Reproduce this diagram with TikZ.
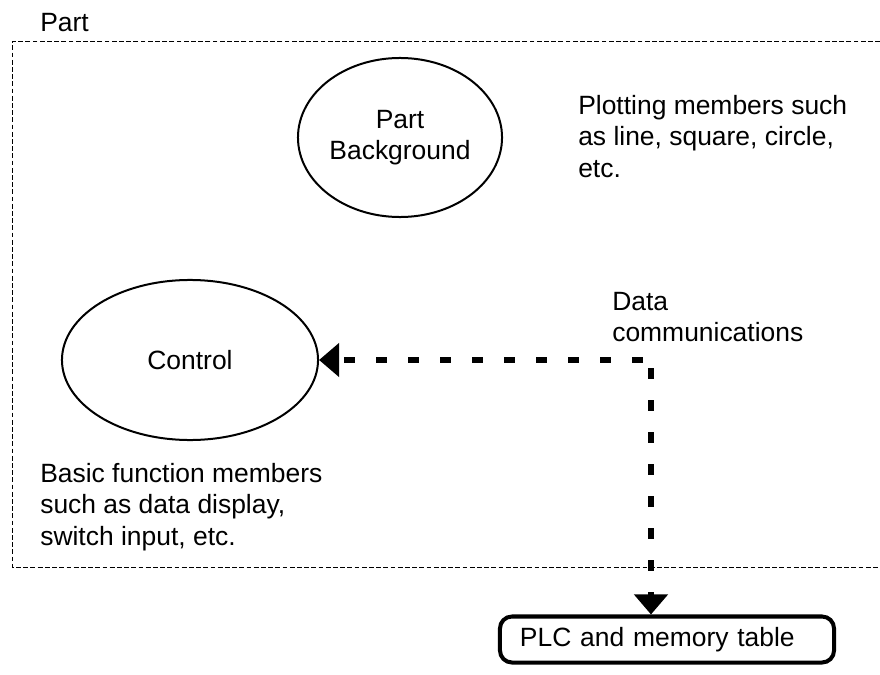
\documentclass[tikz,border=0pt]{standalone}
\usepackage{fontspec}
\setmainfont{Liberation Sans}
\usetikzlibrary{shapes.geometric,arrows.meta}
\begin{document}
\begin{tikzpicture}[x=0.025cm,y=-0.025cm,
	every node/.style={font=\fontsize{18.8pt}{22.4pt}\selectfont},
	member/.style={draw,shape=ellipse,line width=0.05cm,inner sep=0pt,align=center},
	note/.style={anchor=north west,inner sep=0pt,align=left},
	datalink/.style={line width=0.15cm,dash pattern=on 0.28cm off 0.52cm,dash phase=0.6cm,
		-{Triangle[length=0.5cm,width=0.82cm]}}]
\useasboundingbox (0,0) rectangle (880,675);
% part frame, open on the right
\draw[line width=0.025cm,dash pattern=on 0.12cm off 0.06cm] (880,42)--(12,42)--(12,567)--(880,567);
\node[anchor=base west,inner sep=0pt,name=partlabel] at (40,32){Part};
% members
\node[member,minimum width=5.1cm,minimum height=3.975cm,name=bg] at (400,137.5){Part\\Background};
\node[member,minimum width=6.4cm,minimum height=4cm,name=ctrl] at (190,360){Control};
\node[note,name=bgnote] at (578,95){Plotting members such\\as line, square, circle,\\etc.};
\node[note,name=ctrlnote] at (40,463){Basic function members\\such as data display,\\switch input, etc.};
\node[note,name=datanote] at (612,292){Data\\communications};
\node[draw,line width=0.1cm,rounded corners=0.3cm,minimum width=8.35cm,minimum height=1.15cm,
	text width=7.35cm,inner xsep=0.5cm,align=left,name=plc] at (667,639.5){PLC and memory table};
% data communications
\coordinate (corner) at (651,360);
\draw[datalink] (corner)--(ctrl.east);
\draw[datalink] (corner)--(corner |- plc.north);
\end{tikzpicture}
\end{document}
